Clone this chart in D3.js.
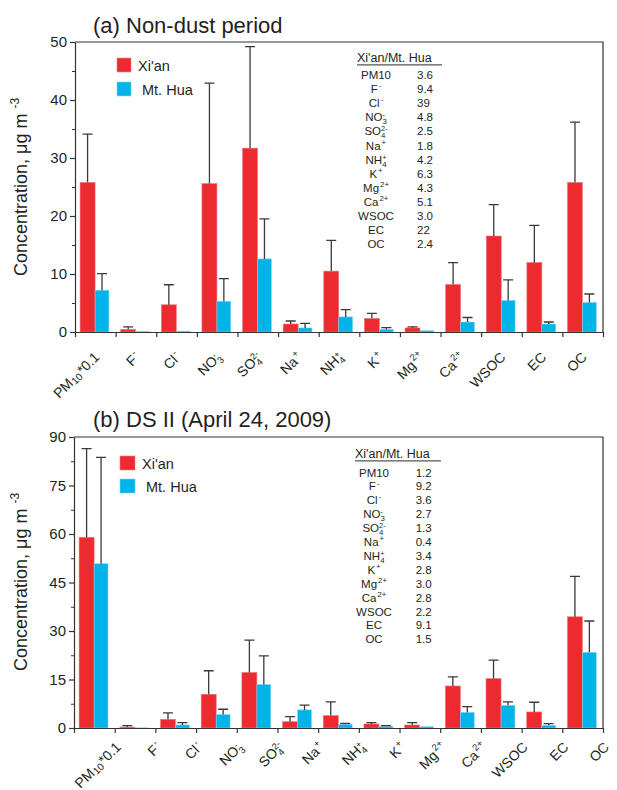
<!DOCTYPE html>
<html><head><meta charset="utf-8">
<script src="https://cdn.jsdelivr.net/npm/d3@7"></script>
<style>body{margin:0;background:#fff}svg{display:block}</style>
</head><body>
<script>
// ---------- data ----------
const categories = ["PM10*0.1","F-","Cl-","NO3-","SO42-","Na+","NH4+","K+","Mg2+","Ca2+","WSOC","EC","OC"];
const tableNames = ["PM10","F-","Cl-","NO3-","SO42-","Na+","NH4+","K+","Mg2+","Ca2+","WSOC","EC","OC"];
const seriesNames = ["Xi'an", "Mt. Hua"];
const tableHeader = "Xi'an/Mt. Hua";
// (a) Non-dust period
const xianNonDust   = [25.8, 0.46, 4.7, 25.6, 31.7, 1.38, 10.5, 2.35, 0.7, 8.2, 16.55, 12.0, 25.8];
const xianNonDustSD = [8.3, 0.44, 3.45, 17.3, 17.5, 0.52, 5.3, 0.85, 0.2, 3.75, 5.4, 6.4, 10.4];
const huaNonDust    = [7.2, 0.08, 0.15, 5.3, 12.6, 0.7, 2.6, 0.45, 0.22, 1.72, 5.45, 1.38, 5.1];
const huaNonDustSD  = [2.85, 0, 0, 3.9, 6.9, 0.8, 1.25, 0.3, 0, 0.78, 3.55, 0.34, 1.45];
const ratioNonDust  = ["3.6","9.4","39","4.8","2.5","1.8","4.2","6.3","4.3","5.1","3.0","22","2.4"];
// (b) DS II
const xianDust   = [59.0, 0.3, 2.7, 10.45, 17.2, 1.97, 3.85, 1.25, 0.93, 13.0, 15.3, 4.97, 34.4];
const xianDustSD = [27.4, 0.44, 1.95, 7.25, 10.0, 1.53, 4.2, 0.42, 0.74, 2.8, 5.7, 3.0, 12.5];
const huaDust    = [50.8, 0.05, 0.95, 4.15, 13.45, 5.6, 1.15, 0.53, 0.4, 4.85, 7.0, 0.84, 23.4];
const huaDustSD  = [32.9, 0, 0.72, 1.65, 8.85, 1.5, 0.25, 0.22, 0, 1.75, 1.05, 0.51, 9.7];
const ratioDust  = ["1.2","9.2","3.6","2.7","1.3","0.4","3.4","2.8","3.0","2.8","2.2","9.1","1.5"];
const yTicksA = [0, 10, 20, 30, 40, 50];
const yMinorA = [5, 15, 25, 35, 45];
const yTicksB = [0, 15, 30, 45, 60, 75, 90];
const yMinorB = [7.5, 22.5, 37.5, 52.5, 67.5, 82.5];

// label formatting (sub/superscripts)
const labelParts = {
  "PM10*0.1": [["t","PM"],["sub","10"],["t","*0.1"]],
  "PM10": [["t","PM10"]],
  "F-": [["t","F"],["sup","-"]],
  "Cl-": [["t","Cl"],["sup","-"]],
  "NO3-": [["t","NO"],["stack","-","3"]],
  "SO42-": [["t","SO"],["stack","2-","4"]],
  "Na+": [["t","Na"],["sup","+"]],
  "NH4+": [["t","NH"],["stack","+","4"]],
  "K+": [["t","K"],["sup","+"]],
  "Mg2+": [["t","Mg"],["sup","2+"]],
  "Ca2+": [["t","Ca"],["sup","2+"]],
  "WSOC": [["t","WSOC"]],
  "EC": [["t","EC"]],
  "OC": [["t","OC"]]
};

const RED = "#ec2a2f", BLUE = "#00b3e8", INK = "#231f20", LINE = "#333";
const FONT = "'Liberation Sans', Arial, Helvetica, sans-serif";

const svg = d3.select("body").append("svg").attr("width", 617).attr("height", 790)
  .style("font-family", FONT).attr("fill", INK);

function rich(g, segs, size) {
  let x = 0;
  const add = (txt, xx, yy, fs) => {
    const t = g.append("text").attr("x", xx).attr("y", yy).style("font-size", fs + "px").text(txt);
    return t.node().getComputedTextLength();
  };
  segs.forEach(s => {
    if (s[0] === "t") x += add(s[1], x, 0, size);
    else if (s[0] === "sup") x += add(s[1], x + 1, -0.42 * size, 0.68 * size) + 1;
    else if (s[0] === "sub") x += add(s[1], x + 0.5, 0.12 * size, 0.72 * size) + 1;
    else if (s[0] === "stack") {
      const a = add(s[1], x, -0.34 * size, 0.64 * size);
      const b = add(s[2], x, 0.26 * size, 0.68 * size);
      x += Math.max(a, b);
    }
  });
  return x;
}

function panel(cfg) {
  const n = categories.length;
  const xl = d3.scaleLinear().domain([0, n]).range([cfg.x0, cfg.x1]);
  const y = d3.scaleLinear().domain([0, cfg.max]).range([cfg.yBot, cfg.yTop]);
  const bw = (cfg.x1 - cfg.x0) / n;
  const g = svg.append("g");

  // frame
  g.append("path").attr("d", `M${cfg.x0},${cfg.yTop}H${cfg.x1}V${cfg.yBot}`)
    .attr("fill", "none").attr("stroke", LINE).attr("stroke-width", 1.2);

  // bars
  const series = [
    {v: cfg.xian, sd: cfg.xianSD, c: RED, s: "#f07f82", off: 0.125, w: 0.37},
    {v: cfg.hua, sd: cfg.huaSD, c: BLUE, s: "#7fd6f3", off: 0.495, w: 0.34}
  ];
  series.forEach(se => {
    const bx = i => xl(i) + se.off * bw;
    g.append("g").selectAll("rect").data(se.v).join("rect")
      .attr("x", (d, i) => bx(i)).attr("width", se.w * bw)
      .attr("y", d => y(d)).attr("height", d => y(0) - y(d))
      .attr("fill", se.c).attr("stroke", se.s).attr("stroke-width", 0.6);
    const eg = g.append("g").attr("stroke", "#3a3a3a").attr("stroke-width", 1.3).attr("fill", "none");
    se.v.forEach((d, i) => {
      if (!se.sd[i]) return;
      const cx = bx(i) + se.w * bw / 2;
      eg.append("path").attr("d", `M${cx},${y(d)}V${y(d + se.sd[i])}M${cx - 5},${y(d + se.sd[i])}H${cx + 5}`);
    });
  });

  // y axis
  const ya = g.append("g").attr("transform", `translate(${cfg.x0},0)`)
    .call(d3.axisLeft(y).tickValues(cfg.ticks).tickSize(5).tickSizeOuter(0).tickPadding(3));
  ya.select(".domain").attr("stroke", LINE).attr("stroke-width", 1.2);
  ya.selectAll(".tick line").attr("stroke", LINE).attr("stroke-width", 1.2);
  ya.selectAll(".tick text").style("font-size", "15px").style("font-family", FONT).attr("fill", INK);
  const ym = g.append("g").attr("transform", `translate(${cfg.x0},0)`)
    .call(d3.axisLeft(y).tickValues(cfg.minor).tickSize(3).tickSizeOuter(0).tickFormat(""));
  ym.select(".domain").remove();
  ym.selectAll(".tick line").attr("stroke", LINE).attr("stroke-width", 1);

  // x axis
  const xa = g.append("g").attr("transform", `translate(0,${cfg.yBot})`)
    .call(d3.axisBottom(xl).tickValues(d3.range(n + 1)).tickSize(5).tickSizeOuter(0).tickFormat(""));
  xa.select(".domain").attr("stroke", LINE).attr("stroke-width", 1.2);
  xa.selectAll(".tick line").attr("stroke", LINE).attr("stroke-width", 1.2);

  // x labels
  categories.forEach((c, i) => {
    const ax = cfg.labelAtEdge ? xl(i + 1) + 7 : xl(i + 0.5) + 5;
    const ay = cfg.yBot + cfg.labelDy;
    const outer = g.append("g").attr("transform", `translate(${ax},${ay}) rotate(-45)`);
    const inner = outer.append("g");
    const w = rich(inner, labelParts[c], 14);
    inner.attr("transform", `translate(${-w},0)`);
  });

  // y title
  const yt = g.append("text").attr("transform", `translate(${cfg.titleX},${cfg.yTitleC}) rotate(-90)`)
    .attr("text-anchor", "middle").style("font-size", "18px");
  yt.append("tspan").text("Concentration, \u03bcg m ");
  yt.append("tspan").attr("dy", -8).style("font-size", "12px").text("-3");

  // title
  g.append("text").attr("x", 93).attr("y", cfg.titleY).style("font-size", "22px").text(cfg.title);

  // legend
  const lg = cfg.legend;
  [RED, BLUE].forEach((c, k) => {
    g.append("rect").attr("x", lg.x).attr("y", lg.y + k * lg.dy).attr("width", lg.w).attr("height", 14)
      .attr("fill", c).attr("stroke", k ? "#7fd6f3" : "#f07f82").attr("stroke-width", 0.6);
    g.append("text").attr("x", lg.tx[k]).attr("y", lg.y + k * lg.dy + 13).style("font-size", "14.5px").text(seriesNames[k]);
  });

  // ratio table
  const tb = cfg.table;
  g.append("text").attr("x", tb.hx).attr("y", tb.hy).style("font-size", "12.5px").text(tableHeader);
  g.append("line").attr("x1", tb.hx).attr("x2", tb.ux2).attr("y1", tb.hy + 2.8).attr("y2", tb.hy + 2.8)
    .attr("stroke", "#555").attr("stroke-width", 1.3);
  tableNames.forEach((nm, i) => {
    const yy = tb.y0 + i * tb.dy;
    const tg = g.append("g");
    const w = rich(tg, labelParts[nm], 11.5);
    tg.attr("transform", `translate(${tb.nc - w / 2},${yy})`);
    g.append("text").attr("x", tb.vx).attr("y", yy).style("font-size", "11.5px").text(cfg.ratios[i]);
  });
}

panel({
  x0: 75, x1: 603, yTop: 42, yBot: 332, max: 50, ticks: yTicksA, minor: yMinorA,
  xian: xianNonDust, xianSD: xianNonDustSD, hua: huaNonDust, huaSD: huaNonDustSD, ratios: ratioNonDust,
  labelAtEdge: false, labelDy: 26, titleX: 27, yTitleC: 187, title: "(a) Non-dust period", titleY: 33,
  legend: {x: 117, y: 58, dy: 24, w: 14, tx: [138, 142]},
  table: {hx: 357, hy: 62, ux2: 442, nc: 376, vx: 417, y0: 79, dy: 14.1}
});
panel({
  x0: 74, x1: 603, yTop: 437, yBot: 728, max: 90, ticks: yTicksB, minor: yMinorB,
  xian: xianDust, xianSD: xianDustSD, hua: huaDust, huaSD: huaDustSD, ratios: ratioDust,
  labelAtEdge: true, labelDy: 20, titleX: 27, yTitleC: 582, title: "(b) DS II (April 24, 2009)", titleY: 427,
  legend: {x: 120, y: 456, dy: 23, w: 15, tx: [142, 146]},
  table: {hx: 355, hy: 458, ux2: 441, nc: 374, vx: 415.7, y0: 476.5, dy: 13.9}
});
</script>
</body></html>
